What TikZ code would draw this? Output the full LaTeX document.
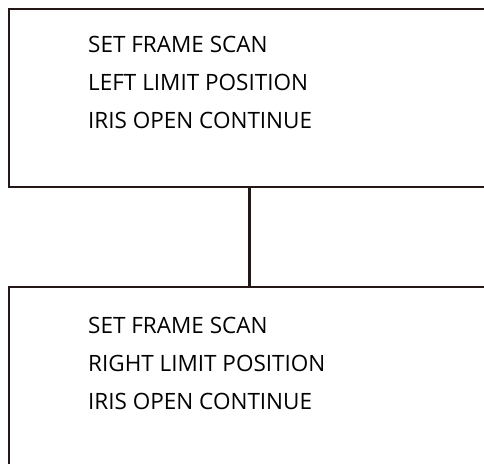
\documentclass[tikz,border=0pt]{standalone}
\usepackage{fontspec}
\setmainfont{Open Sans}

\definecolor{framecol}{HTML}{231815}
\tikzset{
  panel/.style={draw=framecol, line width=2bp, minimum width=480bp, minimum height=178bp, inner sep=0pt},
  cmd/.style={anchor=base west, inner sep=0pt, text=black, font=\fontsize{22.5bp}{27bp}\selectfont},
}

\begin{document}
\begin{tikzpicture}[x=1bp,y=-1bp]
    \useasboundingbox (0,0) rectangle (484,464);
    \begin{scope}
        \clip (0,0) rectangle (484,464);
        % Two command panels, both running off the right edge
        \node[panel] (upper) at (249,98) {};
        \node[panel] (lower) at (249,376) {};
        % Link between them
        \draw[framecol, line width=3bp] (upper.south) -- (lower.north);
    \end{scope}

    % Upper panel text
    \node[cmd] (upscan) at (88,53) {SET FRAME SCAN};
    \node[cmd] (uplimit) at (88,91) {LEFT LIMIT POSITION};
    \node[cmd] (upiris) at (88,128.5) {IRIS OPEN CONTINUE};

    % Lower panel text
    \node[cmd] (loscan) at (88,333) {SET FRAME SCAN};
    \node[cmd] (lolimit) at (88,371) {RIGHT LIMIT POSITION};
    \node[cmd] (loiris) at (88,409) {IRIS OPEN CONTINUE};
\end{tikzpicture}
\end{document}
